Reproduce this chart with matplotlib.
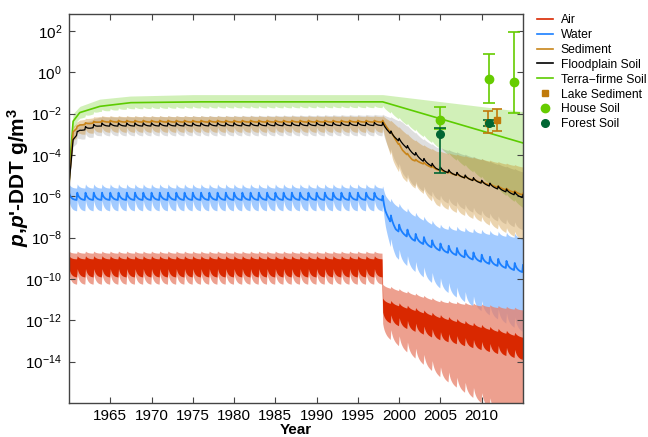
import numpy as np
import matplotlib
matplotlib.use("Agg")
import matplotlib.pyplot as plt
from matplotlib.lines import Line2D

plt.rcParams["font.family"] = ["Liberation Sans", "DejaVu Sans"]
plt.rcParams["mathtext.fontset"] = "custom"
plt.rcParams["mathtext.rm"] = "Liberation Sans"
plt.rcParams["mathtext.it"] = "Liberation Sans:italic:bold"
plt.rcParams["mathtext.bf"] = "Liberation Sans:bold"
plt.rcParams["mathtext.default"] = "regular"

# ---------------- data (log10 of g/m3) ----------------
YEAR_START, YEAR_END = 1960, 2015
STEPS_PER_YEAR = 12
# within-year sawtooth shape of the seasonal cycle (fraction of swing)
season_shape = [1.0, 0.7, 0.5, 0.36, 0.26, 0.18, 0.12, 0.08, 0.05, 0.03, 0.01, 0.0]

# Terra-firme soil
tf_years = [1960.0, 1960.1, 1960.5, 1961.3, 1963.7, 1967.4, 1975.0, 1998.0, 2015.0]
tf_line = [-5.5, -4.4, -2.37, -1.95, -1.65, -1.47, -1.43, -1.43, -3.42]
tf_hi = [-5.5, -4.0, -2.0, -1.65, -1.3, -1.15, -1.08, -1.08, -1.9]
tf_lo = [-5.5, -4.8, -2.7, -2.2, -1.85, -1.72, -1.68, -1.66, -6.5]

# Sediment
sed_years = [1960.0, 1960.5, 1961.3, 1963.7, 1998.0, 1999.2, 2000.4, 2001.6, 2002.8, 2004.5, 2010.0, 2015.0]
sed_line = [-5.5, -2.85, -2.53, -2.37, -2.37, -3.0, -3.74, -4.2, -4.37, -4.66, -5.3, -5.9]
sed_hi = [-5.5, -2.6, -2.3, -2.12, -2.12, -2.4, -2.8, -3.2, -3.5, -3.8, -4.2, -4.56]
sed_lo = [-5.5, -3.2, -2.9, -2.78, -2.78, -4.2, -5.0, -5.4, -5.7, -6.3, -7.1, -8.0]

# Floodplain soil
fp_years = [1960.0, 1960.5, 1961.3, 1963.7, 1998.0, 1999.2, 2000.4, 2001.6, 2002.8, 2004.5, 2010.0, 2015.0]
fp_line = [-5.5, -3.2, -2.77, -2.53, -2.5, -3.0, -3.4, -3.84, -4.2, -4.6, -5.3, -6.0]
fp_hi = [-5.5, -2.9, -2.5, -2.15, -2.05, -2.2, -2.4, -2.8, -3.2, -3.6, -4.2, -4.8]
fp_lo = [-5.5, -3.5, -3.15, -2.95, -2.95, -4.0, -4.8, -5.3, -5.6, -6.0, -6.8, -7.5]

# Water
w_years = [1960.0, 1997.9, 1998.3, 1999.0, 1999.6, 2001.6, 2005.0, 2010.0, 2015.0]
w_line = [-6.0, -6.0, -6.6, -7.1, -7.45, -7.93, -8.46, -9.0, -9.5]
w_hi = [-5.5, -5.5, -5.9, -6.2, -6.35, -6.8, -7.45, -7.7, -7.93]
w_lo = [-6.45, -6.45, -7.3, -8.3, -8.7, -9.3, -10.2, -11.3, -12.3]

# Air
a_years = [1960.0, 1997.95, 1998.0, 2005.0, 2015.0]
a_hi = [-8.95, -8.95, -11.0, -11.8, -12.75]
a_lo = [-9.7, -9.7, -11.8, -12.75, -13.7]
a_band_hi = [-8.7, -8.7, -10.3, -11.06, -11.45]
a_band_lo = [-10.0, -10.0, -12.4, -14.5, -17.0]

# Observations (g/m3)
house_years = [2004.9, 2010.9, 2013.9]
house_vals = [5.1e-3, 0.47, 0.33]
house_lo = [1.8e-3, 0.033, 0.011]
house_hi = [0.022, 7.8, 93.0]

forest_years = [2004.9, 2010.9]
forest_vals = [1.05e-3, 3.5e-3]
forest_lo = [1.3e-5, 2.5e-3]
forest_hi = [2.0e-3, 4.8e-3]

lake_years = [2010.7, 2011.8]
lake_vals = [3.5e-3, 4.7e-3]
lake_lo = [1.2e-3, 1.4e-3]
lake_hi = [0.013, 0.016]

x_ticks = [1965, 1970, 1975, 1980, 1985, 1990, 1995, 2000, 2005, 2010]
y_ticks = [1e2, 1e0, 1e-2, 1e-4, 1e-6, 1e-8, 1e-10, 1e-12, 1e-14]

# colours
c_air, c_air_band = "#d92800", "#e8806a"
c_water, c_water_band = "#1a7fff", "#1a7fff"
c_sed = "#c8851a"
c_fp = "#000000"
c_tf = "#5ccc00"
c_house = "#66cc00"
c_forest = "#006633"
c_lake = "#c07a0a"

# ---------------- build time axis ----------------
n_years = YEAR_END - YEAR_START
t = YEAR_START + np.arange(n_years * STEPS_PER_YEAR + 1) / STEPS_PER_YEAR
s = np.tile(season_shape, n_years + 1)[: len(t)]


def curve(years, logs, amp=0.0):
    return 10 ** (np.interp(t, years, logs) + amp * (np.asarray(s) - 0.5))


fig = plt.figure(figsize=(6.48, 4.37), dpi=100)
ax = fig.add_axes([69 / 648, 34 / 437, (523 - 69) / 648, (403 - 14) / 437])

# bands
ax.fill_between(t, curve(tf_years, tf_lo, 0.1), curve(tf_years, tf_hi), color=c_tf, alpha=0.28, lw=0)
ax.fill_between(t, curve(fp_years, fp_lo, 0.25), curve(fp_years, fp_hi, 0.05), color="black", alpha=0.13, lw=0)
ax.fill_between(t, curve(sed_years, sed_lo, 0.25), curve(sed_years, sed_hi, 0.05), color=c_sed, alpha=0.35, lw=0)
ax.fill_between(t, curve(w_years, w_lo, 0.5), curve(w_years, w_hi, 0.2), color=c_water_band, alpha=0.4, lw=0)
ax.fill_between(t, curve(a_years, a_band_lo, 0.5), curve(a_years, a_band_hi, 0.1), color=c_air_band, alpha=0.75, lw=0)
ax.fill_between(t, curve(a_years, a_lo, 0.4), curve(a_years, a_hi, 0.15), color=c_air, lw=0)

# lines
ax.plot(t, curve(w_years, w_line, 0.35), color=c_water, lw=1.3)
ax.plot(t, curve(tf_years, tf_line), color=c_tf, lw=1.2)
ax.plot(t, curve(sed_years, sed_line, 0.08), color=c_sed, lw=1.2)
ax.plot(t, curve(fp_years, fp_line, 0.15), color=c_fp, lw=0.9)


def errbars(xs, vals, lo, hi, color, marker, ms, cap):
    vals = np.asarray(vals)
    yerr = [vals - np.asarray(lo), np.asarray(hi) - vals]
    ax.errorbar(xs, vals, yerr=yerr, fmt=marker, color=color, ms=ms, capsize=cap,
                elinewidth=1.2, capthick=1.2, zorder=5)


errbars(lake_years, lake_vals, lake_lo, lake_hi, c_lake, "s", 4.5, 3.5)
errbars(house_years, house_vals, house_lo, house_hi, c_house, "o", 6, 4.5)
errbars(forest_years, forest_vals, forest_lo, forest_hi, c_forest, "o", 5.5, 4.5)

ax.set_yscale("log")
ax.set_xlim(1960, 2015)
ax.set_ylim(1e-16, 10 ** 2.82)
ax.set_xticks(x_ticks)
ax.set_yticks(y_ticks)
ax.minorticks_off()
ax.tick_params(direction="in", top=True, right=True, length=4, width=0.8,
               labelsize=11, color="#444444", pad=4)
ax.tick_params(axis="y", pad=5)
for sp in ax.spines.values():
    sp.set_color("#444444")
    sp.set_linewidth(1.0)

ax.set_xlabel("Year", fontsize=11, fontweight="bold", labelpad=0)
ax.set_ylabel(r"$\it{p}$,$\it{p}$'-DDT g/m$^{3}$", fontsize=15, fontweight="bold")
ax.yaxis.set_label_coords((31 - 69) / 454, (403 - 177) / 389)

handles = [
    Line2D([], [], color=c_air, lw=1.2),
    Line2D([], [], color=c_water, lw=1.2),
    Line2D([], [], color=c_sed, lw=1.2),
    Line2D([], [], color=c_fp, lw=1.2),
    Line2D([], [], color=c_tf, lw=1.2),
    Line2D([], [], color=c_lake, marker="s", ls="none", ms=4.5),
    Line2D([], [], color=c_house, marker="o", ls="none", ms=6),
    Line2D([], [], color=c_forest, marker="o", ls="none", ms=5.5),
]
labels = ["Air", "Water", "Sediment", "Floodplain Soil", "Terra\u2212firme Soil",
          "Lake Sediment", "House Soil", "Forest Soil"]
fig.legend(handles, labels, loc="upper left", bbox_to_anchor=(537 / 648, 1 - 14 / 437),
           frameon=False, fontsize=8.7, handlelength=1.35, handletextpad=0.6,
           labelspacing=0.24, borderaxespad=0, borderpad=0)

fig.savefig("out.png", dpi=100)
